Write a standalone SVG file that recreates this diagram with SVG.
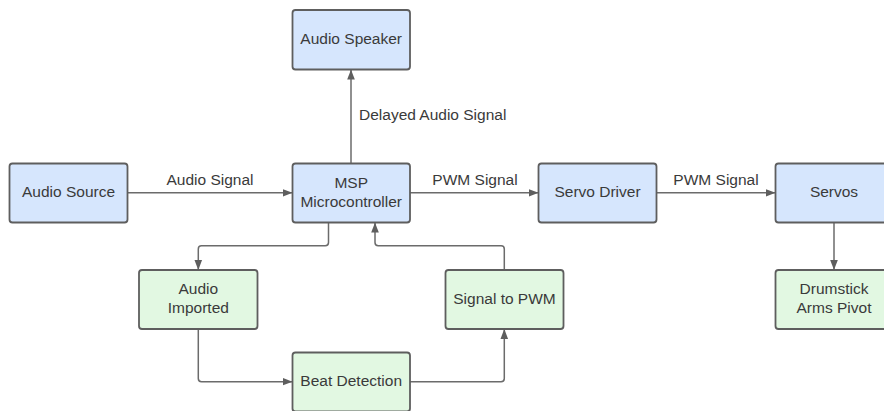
<svg xmlns="http://www.w3.org/2000/svg" width="884" height="411" viewBox="0 0 884 411">
<defs>
<style>
.blue{fill:#d6e6fd;stroke:#5e5e5e;stroke-width:1.8}
.green{fill:#e2f8e2;stroke:#5e5e5e;stroke-width:1.8}
text{font-family:"Liberation Sans",Arial,sans-serif;font-size:15.5px;fill:#3a3a3a}
.c{text-anchor:middle}
.edge{fill:none;stroke:#6b6b6b;stroke-width:1.5}
</style>
<marker id="arr" viewBox="0 0 10 10" refX="10" refY="5" markerWidth="10" markerHeight="10" markerUnits="userSpaceOnUse" orient="auto">
<path d="M0,1.2 L10,5 L0,8.8 Z" fill="#5e5e5e"/>
</marker>
</defs>
<rect width="884" height="411" fill="#ffffff"/>
<g id="connectors">
<path class="edge" d="M127.5,192.8 H292.5" marker-end="url(#arr)"/>
<path class="edge" d="M351,163.5 V69.5" marker-end="url(#arr)"/>
<path class="edge" d="M410,192.8 H538.5" marker-end="url(#arr)"/>
<path class="edge" d="M656.5,192.8 H775.5" marker-end="url(#arr)"/>
<path class="edge" d="M834,222.5 V270" marker-end="url(#arr)"/>
<path class="edge" d="M328.5,222.5 V242.5 Q328.5,245.7 325.3,245.7 H201.5 Q198.3,245.7 198.3,248.9 V270" marker-end="url(#arr)"/>
<path class="edge" d="M504.3,270 V248.9 Q504.3,245.7 501.1,245.7 H378.2 Q375,245.7 375,242.5 V222.5" marker-end="url(#arr)"/>
<path class="edge" d="M198.3,329 V378.5 Q198.3,381.7 201.5,381.7 H292.5" marker-end="url(#arr)"/>
<path class="edge" d="M410,381.7 H501.1 Q504.3,381.7 504.3,378.5 V329" marker-end="url(#arr)"/>
<text class="c" x="210" y="184.5">Audio Signal</text>
<text x="359" y="120">Delayed Audio Signal</text>
<text class="c" x="475" y="185">PWM Signal</text>
<text class="c" x="716" y="185">PWM Signal</text>
</g>
<g id="audio-source"><rect class="blue" x="9.5" y="163.5" width="118" height="59" rx="3"/><text class="c" x="68.5" y="197">Audio Source</text></g>
<g id="audio-speaker"><rect class="blue" x="292.5" y="10" width="117.5" height="59.5" rx="3"/><text class="c" x="351.2" y="43.5">Audio Speaker</text></g>
<g id="msp"><rect class="blue" x="292.5" y="163.5" width="117.5" height="59" rx="3"/><text class="c" x="351.2" y="187.5">MSP</text><text class="c" x="351.2" y="206.8">Microcontroller</text></g>
<g id="servo-driver"><rect class="blue" x="538.5" y="163.5" width="118" height="59" rx="3"/><text class="c" x="597.5" y="197">Servo Driver</text></g>
<g id="servos"><rect class="blue" x="775.5" y="163.5" width="118" height="59" rx="3"/><text class="c" x="834" y="197">Servos</text></g>
<g id="audio-imported"><rect class="green" x="139" y="270" width="118.5" height="59" rx="3"/><text class="c" x="198.3" y="294">Audio</text><text class="c" x="198.3" y="313.3">Imported</text></g>
<g id="beat-detection"><rect class="green" x="292.5" y="352.5" width="117.5" height="59" rx="3"/><text class="c" x="351.2" y="386">Beat Detection</text></g>
<g id="signal-to-pwm"><rect class="green" x="445.5" y="270" width="118" height="59" rx="3"/><text class="c" x="504.5" y="303.5">Signal to PWM</text></g>
<g id="drumstick"><rect class="green" x="775.5" y="270" width="118" height="59" rx="3"/><text class="c" x="834" y="294">Drumstick</text><text class="c" x="834" y="313.3">Arms Pivot</text></g>
</svg>
